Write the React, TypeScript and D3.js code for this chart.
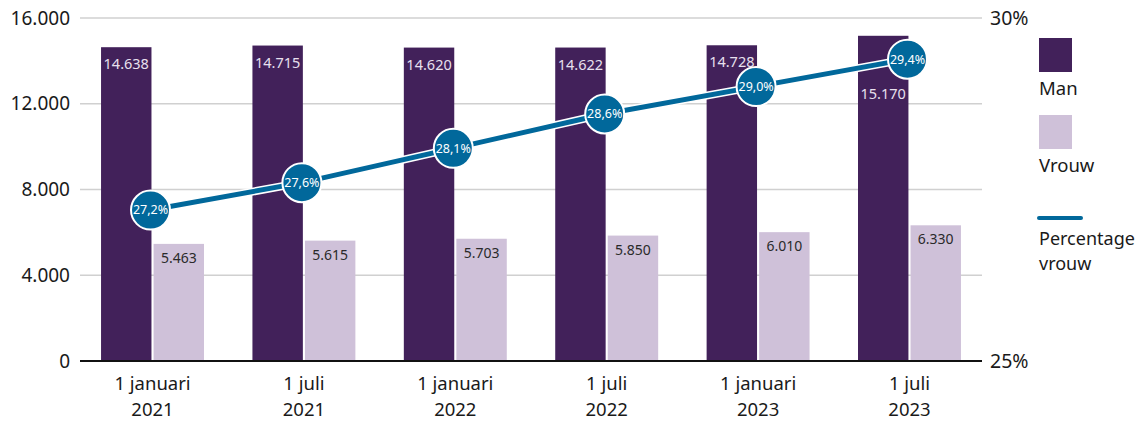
import React from "react";
import * as d3 from "d3";

const categories = ["1 januari|2021", "1 juli|2021", "1 januari|2022", "1 juli|2022", "1 januari|2023", "1 juli|2023"];
const man = [14638, 14715, 14620, 14622, 14728, 15170];
const vrouw = [5463, 5615, 5703, 5850, 6010, 6330];
const pctVrouw = [27.2, 27.6, 28.1, 28.6, 29.0, 29.4];
const leftTicks = [0, 4000, 8000, 12000, 16000];
const rightTicks = [25, 30];

const W = 1147, H = 421;
const M = { left: 80, right: 982, top: 18, bottom: 361 };
const FONT = "'Noto Sans', 'Open Sans', sans-serif";
const DARK = "#42215a";
const LIGHT = "#cfc1d9";
const BLUE = "#01689b";

const fmt = (v: number) => d3.format(",")(v).replace(/,/g, ".");
const fmtPct = (v: number) => v.toFixed(1).replace(".", ",") + "%";

export default function App() {
  const x = d3.scaleBand<string>().domain(categories).range([M.left, M.right]).paddingInner(0.32).paddingOuter(0.139);
  const sub = d3.scaleBand<string>().domain(["man", "vrouw"]).range([0, x.bandwidth()]).paddingInner(0.04);
  const y = d3.scaleLinear().domain([0, 16000]).range([M.bottom, M.top]);
  const yR = d3.scaleLinear().domain([25, 30]).range([M.bottom, M.top]);

  const cx = (c: string) => (x(c) as number) + x.bandwidth() / 2 - 2;
  const line = d3.line<number>().x((_, i) => cx(categories[i])).y((d) => yR(d));
  const path = line(pctVrouw) || "";

  return (
    <svg width={W} height={H} style={{ position: "absolute", left: 0, top: 0, fontFamily: FONT }}>
      <rect width={W} height={H} fill="#fff" />
      {leftTicks.filter((t) => t > 0).map((t) => (
        <line key={t} x1={M.left} x2={M.right} y1={y(t)} y2={y(t)} stroke="#d0d0d0" strokeWidth={1.5} />
      ))}
      {leftTicks.map((t) => (
        <text key={t} x={70} y={y(t)} dy="0.35em" textAnchor="end" fontSize={19} fill="#1a1a1a">{fmt(t)}</text>
      ))}
      {rightTicks.map((t) => (
        <text key={t} x={990} y={yR(t)} dy="0.35em" textAnchor="start" fontSize={19.5} fill="#1a1a1a">{t}%</text>
      ))}
      {categories.map((c, i) => {
        const x0 = x(c) as number;
        const mx = x0 + (sub("man") as number);
        const vx = x0 + (sub("vrouw") as number);
        const bw = sub.bandwidth();
        const mTop = y(man[i]);
        const vTop = y(vrouw[i]);
        const circY = yR(pctVrouw[i]);
        let labY = mTop + 22;
        if (Math.abs(labY - circY) < 15) labY = circY + 40;
        const [l1, l2] = c.split("|");
        return (
          <g key={c}>
            <rect x={mx} y={mTop} width={bw} height={M.bottom - mTop} fill={DARK} />
            <rect x={vx} y={vTop} width={bw} height={M.bottom - vTop} fill={LIGHT} />
            <text x={mx + bw / 2} y={labY} textAnchor="middle" fontSize={14.5} fill="#e8e0ee">{fmt(man[i])}</text>
            <text x={vx + bw / 2} y={vTop + 19} textAnchor="middle" fontSize={14} fill="#2a2a2a">{fmt(vrouw[i])}</text>
            <text x={x0 + x.bandwidth() / 2} y={390} textAnchor="middle" fontSize={18.5} fill="#1a1a1a">{l1}</text>
            <text x={x0 + x.bandwidth() / 2} y={416} textAnchor="middle" fontSize={18.5} fill="#1a1a1a">{l2}</text>
          </g>
        );
      })}
      <line x1={M.left} x2={M.right} y1={M.bottom} y2={M.bottom} stroke="#111" strokeWidth={2} />
      <path d={path} fill="none" stroke="#fff" strokeWidth={8} />
      <path d={path} fill="none" stroke={BLUE} strokeWidth={5} />
      {pctVrouw.map((p, i) => (
        <g key={i}>
          <circle cx={cx(categories[i])} cy={yR(p)} r={19.5} fill={BLUE} stroke="#fff" strokeWidth={2} />
          <text x={cx(categories[i])} y={yR(p)} dy="0.35em" textAnchor="middle" fontSize={12.5} fill="#fff">{fmtPct(p)}</text>
        </g>
      ))}
      <rect x={1039} y={38} width={33} height={34} fill={DARK} />
      <text x={1039} y={95} fontSize={18.5} fill="#1a1a1a">Man</text>
      <rect x={1039} y={115} width={33} height={34} fill={LIGHT} />
      <text x={1039} y={172} fontSize={18.5} fill="#1a1a1a">Vrouw</text>
      <line x1={1039} x2={1081} y1={218} y2={218} stroke={BLUE} strokeWidth={4} strokeLinecap="round" />
      <text x={1039} y={245} fontSize={18} fill="#1a1a1a">Percentage</text>
      <text x={1039} y={270} fontSize={18} fill="#1a1a1a">vrouw</text>
    </svg>
  );
}
